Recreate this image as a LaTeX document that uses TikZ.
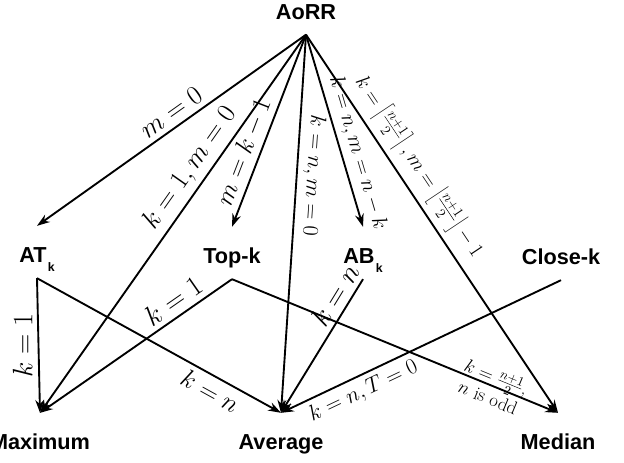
\RequirePackage{fix-cm}
\documentclass[tikz,border=0pt]{standalone}
\usepackage{fontspec}
\setsansfont{Liberation Sans}
\usetikzlibrary{arrows.meta}
\newcommand{\methsub}[1]{\kern1pt\raisebox{-7.3pt}{\fontsize{10.5}{10.5}\selectfont #1}}

\begin{document}
\begin{tikzpicture}[x=0.03cm, y=-0.03cm,
    >={Stealth[length=11pt,width=7.5pt]},
    link/.style={->, line width=1.6pt},
    method/.style={font={\sffamily\bfseries\fontsize{18.5}{22}\selectfont},
      text height=27.3pt, text depth=9pt, inner xsep=0pt, inner ysep=4pt},
    cond/.style={font={\fontsize{#1}{#1}\selectfont}, inner sep=4.5pt},
    cond/.default=18,
    note/.style={font={\fontsize{16}{18}\selectfont}, align=center,
      inner sep=1pt}]
  \useasboundingbox (0,0) rectangle (624,462);
  \foreach \n/\x/\y/\t in {aorr/306/8.5/AoRR, atk/37/252/AT\methsub{k},
    topk/232/253/Top-k, abk/363/253/AB\methsub{k},
    closek/561/254/Close-k, maxi/40/439/Maximum, avg/281/439/Average,
    med/558/439/Median}
  \node[method] (\n) at (\x,\y) {\t};

  \draw[link] (aorr.south) -- node[cond=23, sloped, above, pos=.47] {$m=0$} (atk.north);
  \draw[link] (aorr.south) -- node[cond=23, sloped, above, pos=.38] {$k=1, m=0$} (maxi.north);
  \draw[link] (aorr.south) -- node[cond=22, sloped, above, pos=.64] {$m=k-1$} (topk.north);
  \draw[link] (aorr.south) -- node[cond=19, sloped, allow upside down, above, pos=.37]
    {$k=n, m=0$} (avg.north);
  \draw[link] (aorr.south) -- node[cond=18.5, sloped, above, pos=.64] {$k=n, m=n-k$} (abk.north);
  \draw[link] (aorr.south) -- node[cond=17.5, sloped, above, pos=.38]
    {$k=\left\lceil\frac{n+1}{2}\right\rceil, m=\left\lfloor\frac{n+1}{2}\right\rfloor-1$}
    (med.north);

  \draw[link] (atk.south) -- node[cond=24, rotate=90, above, pos=.5] {$k=1$} (maxi.north);
  \draw[link] (atk.south) -- node[cond=22, sloped, below, pos=.74] {$k=n$} (avg.north);
  \draw[link] (topk.south) -- node[cond=24, sloped, above, pos=.26] {$k=1$} (maxi.north);
  \draw[link] (topk.south) -- node[note, sloped, pos=.8]
    {$k=\frac{n+1}{2}$,\\[1pt] $n$ is odd} (med.north);
  \draw[link] (abk.south) -- node[cond=24, sloped, above, pos=.18] {$k=n$} (avg.north);
  \draw[link] (closek.south) -- node[cond=19, sloped, below, pos=.73] {$k=n, T=0$} (avg.north);
\end{tikzpicture}
\end{document}
